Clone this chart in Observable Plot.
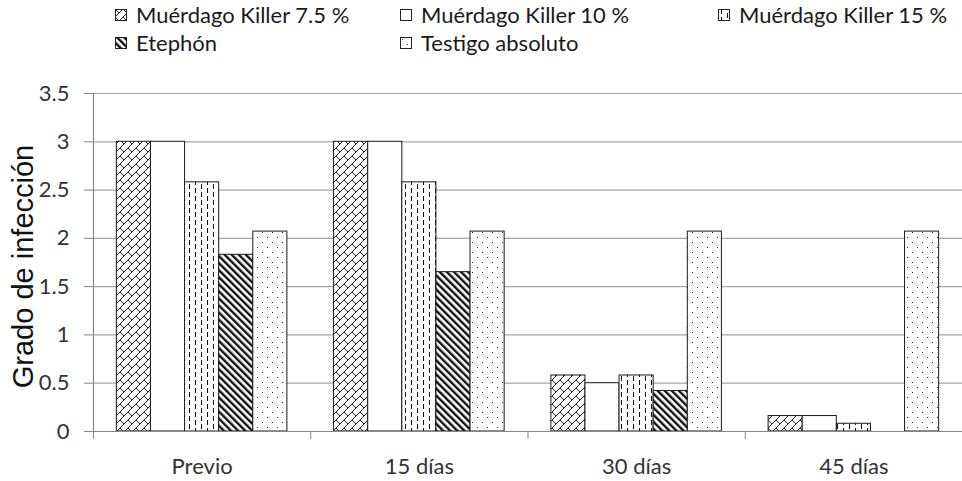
<!DOCTYPE html>
<html><head><meta charset="utf-8">
<script src="https://cdn.jsdelivr.net/npm/d3@7"></script>
<script src="https://cdn.jsdelivr.net/npm/@observablehq/plot@0.6"></script>
<style>
body{margin:0;background:#fff;}
#wrap{position:relative;width:962px;height:481px;overflow:hidden;font-family:Lato,"Open Sans",sans-serif;}
#legend{position:relative;height:60px;}
.item{position:absolute;display:flex;align-items:center;font-size:22px;color:#1a1a1a;white-space:nowrap;line-height:1;}
.item svg{margin-right:9px;flex:none;}
</style></head><body>
<svg width="0" height="0" style="position:absolute">
<defs>
<pattern id="pat75" width="16" height="16" patternUnits="userSpaceOnUse">
<rect width="16" height="16" fill="white"/>
<g stroke="#222" stroke-width="1">
<line x1="0" y1="8" x2="8" y2="0"/><line x1="0" y1="16" x2="16" y2="0"/><line x1="8" y1="16" x2="16" y2="8"/>
<line x1="0" y1="0" x2="4" y2="4"/><line x1="8" y1="8" x2="12" y2="12"/><line x1="8" y1="0" x2="12" y2="4"/><line x1="0" y1="8" x2="4" y2="12"/>
</g></pattern>
<pattern id="pat10" width="8" height="8" patternUnits="userSpaceOnUse"><rect width="8" height="8" fill="white"/></pattern>
<pattern id="pat15" width="12" height="8" patternUnits="userSpaceOnUse">
<rect width="12" height="8" fill="white"/>
<g stroke="#111" stroke-width="1"><line x1="3.5" y1="0" x2="3.5" y2="5"/><line x1="9.5" y1="4" x2="9.5" y2="8"/><line x1="9.5" y1="0" x2="9.5" y2="1"/></g>
</pattern>
<pattern id="patEt" width="5" height="5" patternUnits="userSpaceOnUse" patternTransform="rotate(-45)">
<rect width="5" height="5" fill="white"/><rect width="2.4" height="5" fill="#111"/>
</pattern>
<pattern id="patTe" width="10" height="10" patternUnits="userSpaceOnUse">
<rect width="10" height="10" fill="white"/><rect x="2" y="2" width="1" height="1" fill="#333"/><rect x="7" y="7" width="1" height="1" fill="#333"/>
</pattern>
</defs></svg>
<div id="wrap"><div id="legend"></div><div id="chart"></div></div>
<script>
const groups = ["Previo", "15 días", "30 días", "45 días"];
const series = ["Muérdago Killer 7.5 %", "Muérdago Killer 10 %", "Muérdago Killer 15 %", "Etephón", "Testigo absoluto"];
const killer75 = [3, 3, 0.58, 0.16];
const killer10 = [3, 3, 0.5, 0.16];
const killer15 = [2.58, 2.58, 0.58, 0.08];
const etephon = [1.83, 1.65, 0.42, 0];
const testigo = [2.07, 2.07, 2.07, 2.07];
const yTicks = [0, 0.5, 1, 1.5, 2, 2.5, 3, 3.5];
const yTitle = "Grado de infección";

const seriesValues = [killer75, killer10, killer15, etephon, testigo];
const patterns = ["pat75", "pat10", "pat15", "patEt", "patTe"];

// legend
const legendPos = [[115, 15], [400, 15], [718, 15], [115, 43], [400, 43]];
const legend = document.getElementById("legend");
series.forEach((s, i) => {
  const el = document.createElement("div");
  el.className = "item";
  el.style.left = legendPos[i][0] + "px";
  el.style.top = (legendPos[i][1] - 11) + "px";
  el.innerHTML = `<svg width="12" height="12"><rect x="0.5" y="0.5" width="11" height="11" fill="url(#${patterns[i]})" stroke="#222"/></svg><span>${s}</span>`;
  legend.appendChild(el);
});

const n = series.length;
const bw = 0.157;
const outer = (1 - n * bw) / 2;
const barMarks = seriesValues.map((vals, si) => {
  const rows = groups.map((g, gi) => ({gi, value: vals[gi]})).filter(d => d.value > 0);
  return Plot.rectY(rows, {
    x1: d => d.gi + outer + si * bw,
    x2: d => d.gi + outer + (si + 1) * bw,
    y1: 0, y2: "value",
    fill: `url(#${patterns[si]})`,
    stroke: "#1a1a1a", strokeWidth: 1
  });
});

const chart = Plot.plot({
  width: 962, height: 421,
  marginLeft: 93, marginRight: 0, marginTop: 33, marginBottom: 50,
  style: {fontFamily: "Lato, 'Open Sans', sans-serif", background: "white"},
  x: {type: "linear", domain: [0, groups.length]},
  y: {domain: [0, 3.5]},
  marks: [
    Plot.ruleY(yTicks.filter(v => v > 0), {stroke: "#a6a6a6", strokeWidth: 1.2}),
    ...barMarks,
    Plot.ruleX([0], {stroke: "#868686", strokeWidth: 1.2}),
    Plot.ruleY([0], {stroke: "#868686", strokeWidth: 1.2}),
    Plot.axisY({ticks: yTicks, tickFormat: d => String(d), tickSize: 9, tickPadding: 15, fontSize: 22, stroke: "#868686", fill: "#333", label: null}),
    Plot.axisX({ticks: d3.range(groups.length + 1), tickSize: 8, tickFormat: () => "", stroke: "#868686", label: null}),
    Plot.axisX({ticks: groups.map((g, i) => i + 0.5), tickSize: 0, tickPadding: 27, tickFormat: d => groups[Math.floor(d)], fontSize: 22, fill: "#333", label: null}),
    Plot.text([yTitle], {frameAnchor: "left", textAnchor: "middle", lineAnchor: "middle", rotate: -90, dx: -70, dy: 4, fontSize: 29, fontFamily: "'Liberation Sans', Arial, sans-serif", fill: "#111"})
  ]
});
document.getElementById("chart").appendChild(chart);
</script>
</body></html>
